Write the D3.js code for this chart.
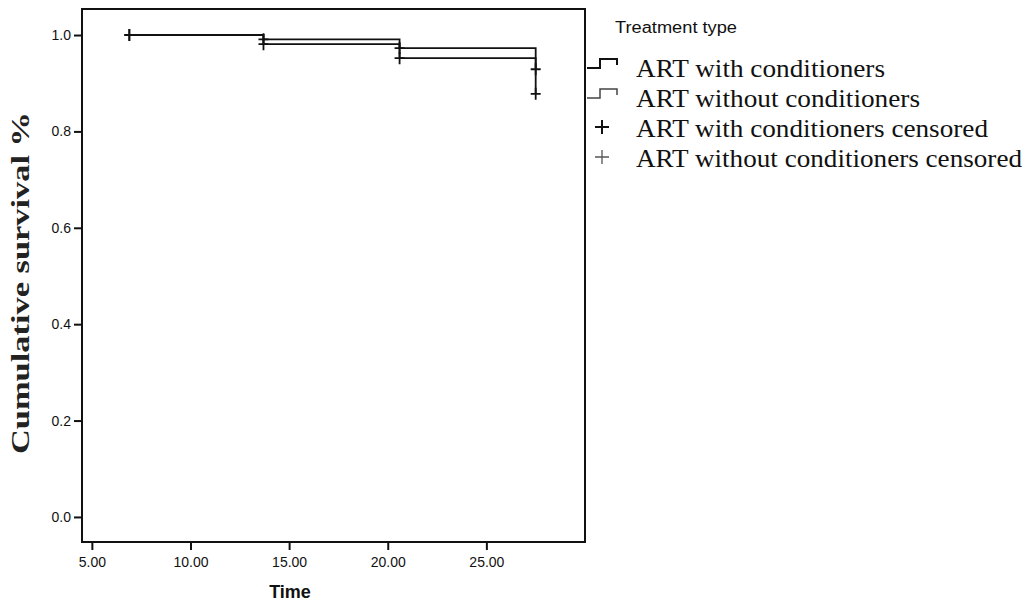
<!DOCTYPE html>
<html>
<head>
<meta charset="utf-8">
<script src="https://cdnjs.cloudflare.com/ajax/libs/d3/7.8.5/d3.min.js"></script>
<style>
  body { margin: 0; background: #fff; }
  .axis text { font-family: "Liberation Sans", Arial, sans-serif; font-size: 14px; fill: #111; }
  .axis line { stroke: #111; stroke-width: 2px; }
  .axis path { display: none; }
</style>
</head>
<body>
<svg id="chart"></svg>
<script>
'use strict';

// survival data
var times = [6.9, 13.7, 20.6, 27.5];
var survWith = [1.0, 0.991, 0.973, 0.929];
var survWithout = [1.0, 0.981, 0.952, 0.878];

var xTicks = [5, 10, 15, 20, 25];
var yTicks = [0, 0.2, 0.4, 0.6, 0.8, 1.0];

var legendLabels = [
  'ART with conditioners',
  'ART without conditioners',
  'ART with conditioners censored',
  'ART without conditioners censored'
];

var chartDim = { width: 1025, height: 602 };
var margin = { top: 9, right: 440, bottom: 60, left: 82 };
var width = chartDim.width - margin.left - margin.right;
var height = chartDim.height - margin.top - margin.bottom;

var svg = d3.select('#chart')
  .attr('width', chartDim.width)
  .attr('height', chartDim.height);

var g = svg.append('g')
  .attr('transform', 'translate(' + margin.left + ',' + margin.top + ')');

var x = d3.scaleLinear().domain([4.5, 30]).range([0, width]);
var y = d3.scaleLinear().domain([-0.052, 1.054]).range([height, 0]);

// axes (ticks outside the frame)
g.append('g')
  .attr('class', 'axis')
  .attr('transform', 'translate(0,' + height + ')')
  .call(d3.axisBottom(x).tickValues(xTicks).tickFormat(d3.format('.2f')).tickSizeOuter(0).tickSize(8).tickPadding(7));

g.append('g')
  .attr('class', 'axis')
  .call(d3.axisLeft(y).tickValues(yTicks).tickFormat(d3.format('.1f')).tickSizeOuter(0).tickSize(8).tickPadding(3));

// frame
g.append('rect')
  .attr('width', width)
  .attr('height', height)
  .attr('fill', 'none')
  .attr('stroke', '#111')
  .attr('stroke-width', 2);

var series = [
  { name: legendLabels[0], values: survWith },
  { name: legendLabels[1], values: survWithout }
];

var line = d3.line()
  .x(function(d) { return x(d.t); })
  .y(function(d) { return y(d.s); })
  .curve(d3.curveStepAfter);

series.forEach(function(sr) {
  var pts = times.map(function(t, i) { return { t: t, s: sr.values[i] }; });
  g.append('path')
    .datum(pts)
    .attr('d', line)
    .attr('fill', 'none')
    .attr('stroke', '#111')
    .attr('stroke-width', 1.8);

  // censored marks
  g.selectAll(null)
    .data(pts)
    .enter().append('path')
    .attr('d', function(d) {
      var cx = x(d.t), cy = y(d.s);
      return 'M' + (cx - 5) + ',' + cy + 'H' + (cx + 5) + 'M' + cx + ',' + (cy - 6) + 'V' + (cy + 6);
    })
    .attr('stroke', '#111')
    .attr('stroke-width', 1.8);
});

// axis titles
svg.append('text')
  .attr('x', 290)
  .attr('y', 598)
  .attr('text-anchor', 'middle')
  .style('font-family', '"Liberation Sans", Arial, sans-serif')
  .style('font-weight', 'bold')
  .style('font-size', '18px')
  .attr('fill', '#111')
  .text('Time');

svg.append('text')
  .attr('transform', 'translate(29,283) rotate(-90)')
  .attr('text-anchor', 'middle')
  .attr('textLength', 342)
  .attr('lengthAdjust', 'spacingAndGlyphs')
  .style('font-family', '"Liberation Serif", "Times New Roman", serif')
  .style('font-size', '25px')
  .style('font-weight', 'bold')
  .attr('fill', '#222')
  .text('Cumulative survival %');

// legend
var legend = svg.append('g');

legend.append('text')
  .attr('x', 615)
  .attr('y', 33)
  .attr('textLength', 122)
  .attr('lengthAdjust', 'spacingAndGlyphs')
  .style('font-family', '"Liberation Sans", Arial, sans-serif')
  .style('font-size', '16px')
  .attr('fill', '#111')
  .text('Treatment type');

var legendWidths = [249, 284, 352, 386];

var row = legend.selectAll('.legend-row')
  .data(legendLabels)
  .enter().append('g')
  .attr('class', 'legend-row')
  .attr('transform', function(d, i) { return 'translate(0,' + (77 + i * 30) + ')'; });

row.append('text')
  .attr('x', 636)
  .attr('y', 0)
  .attr('textLength', function(d, i) { return legendWidths[i]; })
  .attr('lengthAdjust', 'spacingAndGlyphs')
  .style('font-family', '"Liberation Serif", "Times New Roman", serif')
  .style('font-size', '25px')
  .attr('fill', '#111')
  .text(function(d) { return d; });

// step symbols for the two curves
row.filter(function(d, i) { return i < 2; })
  .append('path')
  .attr('d', 'M587,-9H600V-18H617V-12')
  .attr('fill', 'none')
  .attr('stroke', function(d, i) { return i === 0 ? '#111' : '#444'; })
  .attr('stroke-width', function(d, i) { return i === 0 ? 2 : 1.5; });

// cross symbols for the censored entries
row.filter(function(d, i) { return i >= 2; })
  .append('path')
  .attr('d', 'M595,-10H609M602,-17V-3')
  .attr('stroke', function(d, i) { return i === 0 ? '#111' : '#555'; })
  .attr('stroke-width', function(d, i) { return i === 0 ? 2 : 1.3; });
</script>
</body>
</html>
